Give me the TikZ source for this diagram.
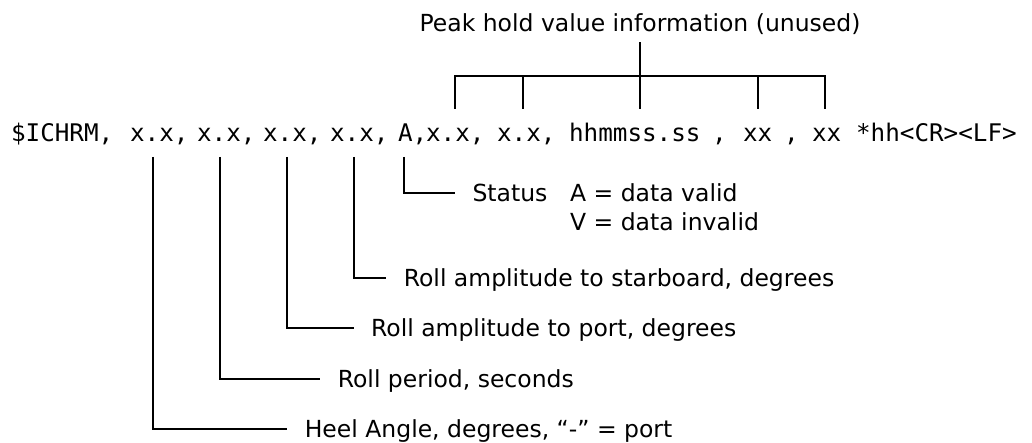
\documentclass[tikz,border=0pt]{standalone}
\usepackage{fontspec}
\setmainfont{DejaVu Sans}
\setmonofont{DejaVu Sans Mono}
\begin{document}
\begin{tikzpicture}[x=1pt,y=-1pt,
  line width=2.2pt,
  lab/.style={font=\fontsize{23.5}{29}\selectfont, inner sep=0pt, text height=17.1pt, text depth=0pt, anchor=west},
  mono/.style={font=\ttfamily\fontsize{24.25}{29}\selectfont, inner sep=0pt, anchor=base west},
  hook/.style={line width=2.2pt, shorten >=16.5pt}]
\useasboundingbox (0,0) rectangle (1032,443);
% sentence
\node[mono] (s0) at (10,142) {\$ICHRM,};
\node[mono] (f1) at (129,142) {x.x,};
\node[mono] (f2) at (196,142) {x.x,};
\node[mono] (f3) at (262,142) {x.x,};
\node[mono] (f4) at (329,142) {x.x,};
\node[mono] (f5) at (397,142) {A,};
\node[mono] (f6) at (425,142) {x.x,};
\node[mono] (f7) at (496,142) {x.x,};
\node[mono] (f8) at (568,142) {hhmmss.ss};
\node[mono] (c8) at (711,142) {,};
\node[mono] (f9) at (742,142) {xx};
\node[mono] (c9) at (783,142) {,};
\node[mono] (f10) at (811,142) {xx};
\node[mono] (f11) at (855,142) {*hh<CR><LF>};
% top label
\node[lab, anchor=south] (peak) at (640,33) {Peak hold value information (unused)};
\coordinate (p1) at (455,109);
\coordinate (p2) at (523,109);
\coordinate (p3) at (640,109);
\coordinate (p4) at (758,109);
\coordinate (p5) at (825,109);
\draw[line width=2.2pt] (p1) -- (455,76) -- (825,76) -- (p5);
\draw[line width=2.2pt] (p2) -- (523,76);
\draw[line width=2.2pt] (p4) -- (758,76);
\draw[line width=2.2pt, shorten >=9pt] (p3) -- (peak.south);
% bottom labels
\node[lab] (status) at (471.4,193) {Status};
\node[lab] (valid) at (569,193) {A = data valid};
\node[lab] (invalid) at (569,222) {V = data invalid};
\node[lab] (star) at (402.7,278) {Roll amplitude to starboard, degrees};
\node[lab] (port) at (370,328) {Roll amplitude to port, degrees};
\node[lab] (period) at (336.7,379) {Roll period, seconds};
\node[lab] (heel) at (303.7,429) {Heel Angle, degrees, “-” = port};
% connectors
\coordinate (a1) at (153,157);
\coordinate (a2) at (220,157);
\coordinate (a3) at (287,157);
\coordinate (a4) at (354,157);
\coordinate (a5) at (404,157);
\draw[hook] (a1) |- (heel.west);
\draw[hook] (a2) |- (period.west);
\draw[hook] (a3) |- (port.west);
\draw[hook] (a4) |- (star.west);
\draw[hook] (a5) |- (status.west);
\end{tikzpicture}
\end{document}
